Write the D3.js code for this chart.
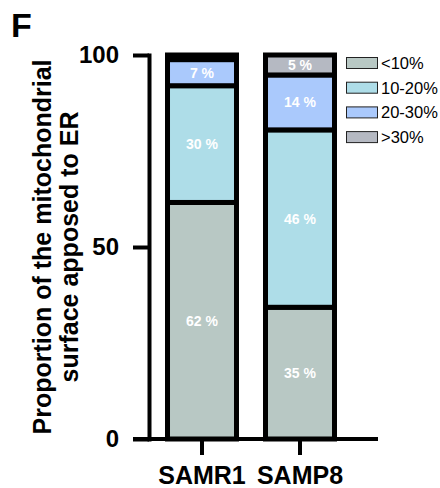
<!DOCTYPE html>
<html><head><meta charset="utf-8">
<script src="https://cdn.jsdelivr.net/npm/d3@7"></script>
<style>body{margin:0;background:#fff}svg{display:block}text{font-family:"Liberation Sans",Arial,sans-serif}</style>
</head><body><svg id="c" width="440" height="488"></svg>
<script>
const groups = ["SAMR1", "SAMP8"];
const categories = ["<10%", "10-20%", "20-30%", ">30%"];
const samr1 = [61.6, 30.4, 6.8, 1.2];
const samp8 = [34.3, 46.2, 14.3, 5.2];
const samr1Labels = ["62 %", "30 %", "7 %", ""];
const samp8Labels = ["35 %", "46 %", "14 %", "5 %"];
const yTicks = [0, 50, 100];
const colors = ["#b8c8c4", "#aedde8", "#aac9fc", "#b5b9c2"];

const svg = d3.select("#c");
const y = d3.scaleLinear().domain([0, 100]).range([439, 55]);
const x = d3.scaleBand().domain(groups).range([153, 349]).paddingInner(0.296).paddingOuter(0.148);

const series = [samr1, samp8];
const labels = [samr1Labels, samp8Labels];

// bars
groups.forEach((g, gi) => {
  let cum = 0;
  const segs = series[gi].map((v, i) => { const s = {y0: cum, y1: cum + v, i, label: labels[gi][i]}; cum += v; return s; });
  const gg = svg.append("g");
  gg.selectAll("rect").data(segs).join("rect")
    .attr("x", x(g)).attr("width", x.bandwidth())
    .attr("y", d => y(d.y1)).attr("height", d => y(d.y0) - y(d.y1))
    .attr("fill", d => colors[d.i]).attr("stroke", "#000").attr("stroke-width", 5);
  gg.selectAll("text").data(segs).join("text")
    .attr("x", x(g) + x.bandwidth() / 2).attr("y", d => (y(d.y0) + y(d.y1)) / 2 + 5)
    .attr("text-anchor", "middle").attr("fill", "#fff").attr("font-weight", "bold")
    .attr("font-size", 14).text(d => d.label);
});

// y axis
const ya = svg.append("g").attr("transform", "translate(149,0)")
  .call(d3.axisLeft(y).tickValues(yTicks).tickSize(16).tickSizeOuter(0).tickPadding(14));
ya.select(".domain").attr("stroke-width", 4).attr("stroke-linecap", "square");
ya.selectAll(".tick line").attr("stroke-width", 4);
ya.selectAll(".tick text").attr("font-size", 24).attr("font-weight", "bold")
  .attr("font-family", "Liberation Sans, Arial, sans-serif").attr("fill", "#000");

// x axis
const xa = svg.append("g").attr("transform", "translate(0,439)")
  .call(d3.axisBottom(x).tickSize(16).tickSizeOuter(0).tickPadding(8));
xa.select(".domain").remove();
xa.append("line").attr("x1", 133).attr("x2", 378).attr("stroke", "#000").attr("stroke-width", 4);
xa.selectAll(".tick line").attr("stroke-width", 4);
xa.selectAll(".tick text").attr("font-size", 25).attr("font-weight", "bold")
  .attr("font-family", "Liberation Sans, Arial, sans-serif").attr("fill", "#000").attr("dy", "0.85em");

// y title
const yt = svg.append("text").attr("transform", "translate(0,247) rotate(-90)")
  .attr("text-anchor", "middle").attr("font-weight", "bold").attr("font-size", 25);
yt.append("tspan").attr("x", 0).attr("y", 51).text("Proportion of the mitochondrial");
yt.append("tspan").attr("x", 0).attr("y", 78).text("surface apposed to ER");

// panel letter
svg.append("text").attr("x", 11).attr("y", 37).attr("font-weight", "bold").attr("font-size", 34).text("F");

// legend
const lg = svg.append("g");
categories.forEach((c, i) => {
  const cy = 63 + i * 24.7;
  lg.append("rect").attr("x", 346.5).attr("y", cy - 5.5).attr("width", 31).attr("height", 11)
    .attr("fill", colors[i]).attr("stroke", "#222").attr("stroke-width", 1);
  lg.append("text").attr("x", 381).attr("y", cy + 6).attr("font-size", 16.5).attr("fill", "#000").text(c);
});
</script></body></html>
